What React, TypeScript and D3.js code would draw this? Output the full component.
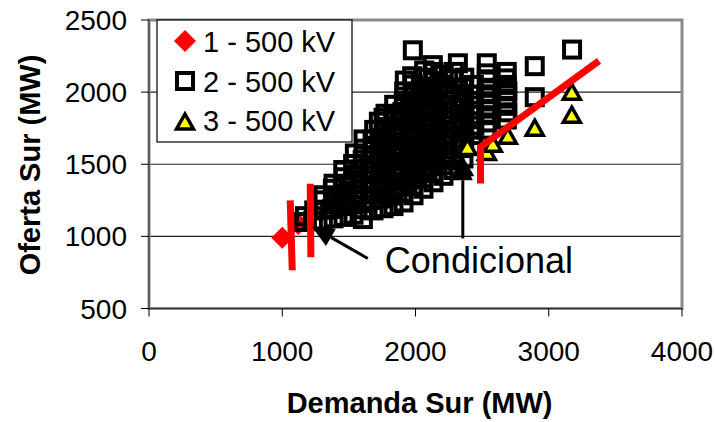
import React from "react";
import * as d3 from "d3";

// Series 1 – 500 kV (red diamonds)
const serie1: [number, number][] = [
  [1000, 990],
  [1120, 1085],
];

// Series 2 – 500 kV (open squares)
const serie2: [number, number][] = [
  [1160, 1100], [1170, 1140],
  [1230, 1105], [1240, 1180],
  [1305, 1110], [1315, 1185], [1300, 1250], [1310, 1285],
  [1385, 1125], [1375, 1190], [1390, 1268], [1380, 1330], [1385, 1365],
  [1460, 1135], [1450, 1210], [1465, 1272], [1455, 1348], [1462, 1410], [1458, 1460],
  [1535, 1150], [1528, 1222], [1540, 1288], [1530, 1365], [1538, 1428], [1532, 1502], [1545, 1575],
  [1605, 1120], [1612, 1188], [1602, 1252], [1615, 1328], [1606, 1392], [1618, 1468], [1604, 1532], [1614, 1608], [1610, 1672],
  [1685, 1180], [1678, 1252], [1690, 1318], [1680, 1392], [1692, 1458], [1682, 1532], [1688, 1598], [1678, 1672], [1690, 1738], [1725, 1795],
  [1760, 1195], [1752, 1262], [1766, 1338], [1756, 1402], [1768, 1478], [1754, 1542], [1764, 1618], [1756, 1682], [1768, 1758], [1760, 1822], [1775, 1850],
  [1835, 1210], [1828, 1282], [1842, 1348], [1830, 1422], [1840, 1488], [1828, 1562], [1838, 1628], [1830, 1702], [1842, 1768], [1832, 1842], [1840, 1912],
  [1910, 1235], [1902, 1302], [1915, 1378], [1905, 1442], [1918, 1518], [1904, 1582], [1914, 1658], [1906, 1722], [1918, 1798], [1902, 1862], [1912, 1938], [1915, 2005], [1920, 2080],
  [1985, 1285], [1978, 1352], [1990, 1428], [1980, 1492], [1992, 1568], [1978, 1632], [1988, 1708], [1980, 1772], [1992, 1848], [1978, 1912], [1990, 1988], [1982, 2052], [1975, 2110], [1980, 2290],
  [2060, 1330], [2052, 1402], [2066, 1468], [2055, 1542], [2068, 1608], [2054, 1682], [2064, 1748], [2056, 1822], [2068, 1888], [2058, 1962], [2066, 2028], [2060, 2100], [2065, 2150],
  [2135, 1375], [2128, 1442], [2142, 1518], [2130, 1582], [2140, 1658], [2128, 1722], [2138, 1798], [2130, 1862], [2142, 1938], [2128, 2002], [2138, 2078], [2135, 2140], [2130, 2187],
  [2210, 1420], [2202, 1492], [2216, 1558], [2205, 1632], [2218, 1698], [2204, 1772], [2214, 1838], [2206, 1912], [2218, 1978], [2204, 2052], [2212, 2120],
  [2285, 1460], [2278, 1528], [2292, 1602], [2280, 1668], [2290, 1742], [2278, 1808], [2288, 1882], [2280, 1948], [2292, 2022], [2282, 2090], [2288, 2140],
  [2318, 2200],
  [2360, 1540], [2352, 1612], [2366, 1678], [2355, 1752], [2368, 1818], [2354, 1892], [2364, 1958], [2356, 2032], [2366, 2100],
  [2435, 1630], [2428, 1702], [2442, 1768], [2430, 1842], [2440, 1908], [2428, 1982], [2438, 2050],
  [2535, 1740], [2535, 1790], [2530, 1840], [2540, 1885], [2535, 1935], [2530, 1985], [2540, 2030], [2535, 2080], [2535, 2130], [2535, 2200],
  [2685, 1810], [2690, 1860], [2680, 1905], [2685, 1955], [2690, 2005], [2685, 2050], [2680, 2095], [2685, 2140],
  [2895, 1965], [2895, 2180],
  [3175, 2295],
];

// Series 3 – 500 kV (yellow triangles)
const serie3: [number, number][] = [
  [2355, 1470],
  [2390, 1610],
  [2535, 1575],
  [2580, 1632],
  [2693, 1688],
  [2895, 1743],
  [3173, 1993],
  [3173, 1833],
];

// Transfer limit lines (red)
const limite1: [number, number][] = [[1060, 1250], [1075, 765]];
const limite2: [number, number][] = [[1210, 1365], [1215, 855]];
const limite3: [number, number][] = [[2488, 1366], [2488, 1620], [3377, 2217]];

// "Condicional" annotation arrows: tail -> tip
const flechas: { from: [number, number]; to: [number, number] }[] = [
  { from: [1642, 847], to: [1222, 1069] },
  { from: [2355, 986], to: [2355, 1542] },
];
const etiquetaCondicional: [number, number] = [1770, 743];

const xTicks = [0, 1000, 2000, 3000, 4000];
const yTicks = [500, 1000, 1500, 2000, 2500];
const yGrid = [1000, 1500, 2000];
const leyenda = ["1 - 500 kV", "2 - 500 kV", "3 - 500 kV"];

const FONT = "'Liberation Sans', Arial, Helvetica, sans-serif";

export default function App() {
  const W = 715;
  const H = 422;
  const x = d3.scaleLinear().domain([0, 4000]).range([149, 682]);
  const y = d3.scaleLinear().domain([500, 2500]).range([308.5, 20]);
  const line = d3
    .line<[number, number]>()
    .x((d) => x(d[0]))
    .y((d) => y(d[1]));

  const diamond = (cx: number, cy: number, r = 11) =>
    `M${cx},${cy - r}L${cx + r},${cy}L${cx},${cy + r}L${cx - r},${cy}Z`;
  const triangle = (cx: number, cy: number) =>
    `M${cx},${cy - 9}L${cx + 8.5},${cy + 6}L${cx - 8.5},${cy + 6}Z`;

  const arrow = (f: [number, number], t: [number, number]) => {
    const x0 = x(f[0]), y0 = y(f[1]), x1 = x(t[0]), y1 = y(t[1]);
    const dx = x1 - x0, dy = y1 - y0;
    const len = Math.hypot(dx, dy);
    const ux = dx / len, uy = dy / len;
    const hl = 22, hw = 10;
    const bx = x1 - ux * hl, by = y1 - uy * hl;
    const head = `M${x1},${y1}L${bx - uy * hw},${by + ux * hw}L${bx + uy * hw},${by - ux * hw}Z`;
    return { shaft: { x1: x0, y1: y0, x2: bx, y2: by }, head };
  };

  return (
    <svg
      width={W}
      height={H}
      style={{ position: "absolute", left: 0, top: 0, background: "#fff" }}
      fontFamily={FONT}
    >
      <rect x={0} y={0} width={W} height={H} fill="#fff" />

      {/* gridlines */}
      {yGrid.map((v) => (
        <line key={v} x1={x(0)} x2={x(4000)} y1={y(v)} y2={y(v)} stroke="#222" strokeWidth={1.2} />
      ))}

      {/* plot frame */}
      <rect
        x={x(0)}
        y={y(2500)}
        width={x(4000) - x(0)}
        height={y(500) - y(2500)}
        fill="none"
        stroke="#8a8a8a"
        strokeWidth={3}
      />
      <line x1={x(0)} x2={x(0)} y1={y(2500)} y2={y(500)} stroke="#333" strokeWidth={1} />
      <line x1={x(0)} x2={x(4000)} y1={y(500)} y2={y(500)} stroke="#333" strokeWidth={1} />

      {/* ticks */}
      {yTicks.map((v) => (
        <g key={v}>
          <line x1={x(0) - 8} x2={x(0)} y1={y(v)} y2={y(v)} stroke="#000" strokeWidth={1} />
          <text x={127} y={y(v) + 10} textAnchor="end" fontSize={28} fill="#000">
            {v}
          </text>
        </g>
      ))}
      {xTicks.map((v) => (
        <g key={v}>
          <line x1={x(v)} x2={x(v)} y1={y(500)} y2={y(500) + 8} stroke="#000" strokeWidth={1} />
          <text x={x(v)} y={361} textAnchor="middle" fontSize={28} fill="#000">
            {v}
          </text>
        </g>
      ))}

      {/* axis titles */}
      <text x={419.6} y={413} textAnchor="middle" fontSize={29} fontWeight="bold" fill="#000">
        Demanda Sur (MW)
      </text>
      <text
        transform={`translate(40,165) rotate(-90)`}
        textAnchor="middle"
        fontSize={29}
        fontWeight="bold"
        fill="#000"
      >
        Oferta Sur (MW)
      </text>

      {/* series 1 */}
      {serie1.map((d, i) => (
        <path key={`s1-${i}`} d={diamond(x(d[0]), y(d[1]))} fill="#ff0000" />
      ))}
      {/* series 2 */}
      {serie2.map((d, i) => (
        <rect
          key={`s2-${i}`}
          x={x(d[0]) - 8}
          y={y(d[1]) - 8}
          width={16}
          height={16}
          fill="none"
          stroke="#000"
          strokeWidth={4}
        />
      ))}
      {/* series 3 */}
      {serie3.map((d, i) => (
        <path
          key={`s3-${i}`}
          d={triangle(x(d[0]), y(d[1]))}
          fill="#ffff00"
          stroke="#000"
          strokeWidth={3.5}
          strokeLinejoin="miter"
        />
      ))}

      {/* limit lines */}
      {[limite1, limite2, limite3].map((l, i) => (
        <path key={`lim-${i}`} d={line(l) ?? ""} fill="none" stroke="#ff0000" strokeWidth={7} />
      ))}

      {/* annotation */}
      {flechas.map((f, i) => {
        const a = arrow(f.from, f.to);
        return (
          <g key={`fl-${i}`}>
            <line {...a.shaft} stroke="#000" strokeWidth={3} />
            <path d={a.head} fill="#000" />
          </g>
        );
      })}
      <text
        x={x(etiquetaCondicional[0])}
        y={y(etiquetaCondicional[1])}
        fontSize={36}
        fill="#000"
      >
        Condicional
      </text>

      {/* legend */}
      <rect x={157} y={20} width={195} height={122} fill="#fff" stroke="#000" strokeWidth={1.2} />
      <path d={diamond(185, 41)} fill="#ff0000" />
      <rect x={177} y={73} width={16} height={16} fill="#fff" stroke="#000" strokeWidth={4} />
      <path d={triangle(185, 123)} fill="#ffff00" stroke="#000" strokeWidth={3.5} />
      {leyenda.map((t, i) => (
        <text key={t} x={203} y={52 + i * 39.5} fontSize={29} fill="#000">
          {t}
        </text>
      ))}
    </svg>
  );
}
